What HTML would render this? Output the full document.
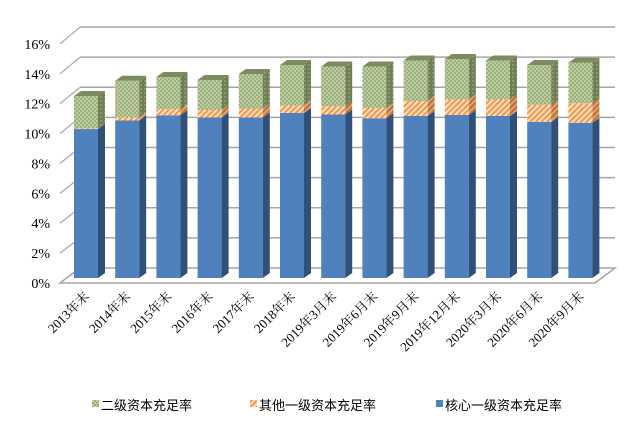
<!DOCTYPE html>
<html><head><meta charset="utf-8"><style>
body{margin:0;background:#fff}
svg text{font-family:"Liberation Serif","Noto Serif CJK SC",serif;fill:#000}
</style></head><body>
<svg id="chart" width="640" height="438" viewBox="0 0 640 438" xmlns="http://www.w3.org/2000/svg">
<defs>
<pattern id="pg" width="4" height="4" patternUnits="userSpaceOnUse"><rect width="4" height="4" fill="#9bb07a"/><circle cx="1" cy="1" r="0.9" fill="#d6e2c0"/><circle cx="3" cy="3" r="0.9" fill="#d6e2c0"/></pattern>
<pattern id="pgd" width="4" height="4" patternUnits="userSpaceOnUse"><rect width="4" height="4" fill="#6f7f55"/><circle cx="1" cy="1" r="0.9" fill="#9aa880"/></pattern>
<pattern id="po" width="4" height="4" patternUnits="userSpaceOnUse" patternTransform="rotate(45)"><rect width="4" height="4" fill="#fde0c4"/><rect width="2" height="4" fill="#f79646"/></pattern>
<pattern id="pod" width="4" height="4" patternUnits="userSpaceOnUse" patternTransform="rotate(45)"><rect width="4" height="4" fill="#d9a27a"/><rect width="2" height="4" fill="#c0702e"/></pattern>
</defs>
<g id="grid"></g>
<g id="bars"></g>
<g id="xlabels"></g>
<g font-size="13">
<rect x="92" y="400" width="7" height="7" fill="url(#pg)"/>
<text x="101" y="410" style="font-family:'Liberation Sans','Noto Sans CJK SC',sans-serif">二级资本充足率</text>
<rect x="250" y="400" width="7" height="7" fill="url(#po)"/>
<text x="259" y="410" style="font-family:'Liberation Sans','Noto Sans CJK SC',sans-serif">其他一级资本充足率</text>
<rect x="436" y="400" width="7" height="7" fill="#4f81bd"/>
<text x="445" y="410" style="font-family:'Liberation Sans','Noto Sans CJK SC',sans-serif">核心一级资本充足率</text>
</g>
</svg>
<script>
const categories=["2013年末","2014年末","2015年末","2016年末","2017年末","2018年末","2019年3月末","2019年6月末","2019年9月末","2019年12月末","2020年3月末","2020年6月末","2020年9月末"];
const coreTier1=[9.93,10.5,10.85,10.7,10.7,11.0,10.9,10.65,10.8,10.87,10.8,10.4,10.35];
const otherTier1=[0.05,0.2,0.4,0.5,0.6,0.5,0.55,0.68,1.0,1.03,1.1,1.15,1.3];
const tier2=[2.15,2.45,2.15,2.0,2.3,2.7,2.65,2.77,2.7,2.7,2.6,2.65,2.7];
const yTicks=[0,2,4,6,8,10,12,14,16];
const NS="http://www.w3.org/2000/svg";
function el(t,a,p){const e=document.createElementNS(NS,t);for(const k in a)e.setAttribute(k,a[k]);p.appendChild(e);return e;}
const yFront=v=>283-v*14.94, yBack=v=>268-v*15.06, yBar=v=>278-v*15.0;
const xBar=i=>74+i*41.2, BW=24, DX=7, DY=-5;
const grid=document.getElementById('grid');
// floor
let fl=el('polygon',{points:"60,283 80,268 615,268 595,283",fill:"none",stroke:"#a6a6a6","stroke-width":"1.5"},grid);


yTicks.forEach(v=>{
  if(v>0){const g=el('line',{x1:80,x2:615,y1:yBack(v),y2:yBack(v),stroke:"#a6a6a6","stroke-width":"1.5"},grid);
  
  }
  const d=el('line',{x1:60,y1:yFront(v),x2:80,y2:yBack(v),stroke:"#a6a6a6","stroke-width":"1.2"},grid);
  
  
  const t=el('text',{x:50,y:yFront(v)+5,"text-anchor":"end","font-size":"14"},grid);
  t.textContent=v+"%";
  
  
});
const bars=document.getElementById('bars');
function seg(i,lo,hi,front,side,top,name){
  const x=xBar(i),y1=yBar(hi),y0=yBar(lo);
  const g=el('g',{},bars);
  
  
  el('rect',{x:x,y:y1,width:BW,height:Math.max(0,y0-y1),fill:front},g);
  el('polygon',{points:`${x+BW},${y0} ${x+BW+DX},${y0+DY} ${x+BW+DX},${y1+DY} ${x+BW},${y1}`,fill:side},g);
  if(top)el('polygon',{points:`${x},${y1} ${x+DX},${y1+DY} ${x+BW+DX},${y1+DY} ${x+BW},${y1}`,fill:top},g);
}
categories.forEach((c,i)=>{
  const a=coreTier1[i],b=a+otherTier1[i],t=b+tier2[i];
  seg(i,0,a,"#4f81bd","#2f5079",null,'core-tier1');
  seg(i,a,b,"url(#po)","url(#pod)",null,'other-tier1');
  seg(i,b,t,"url(#pg)","url(#pgd)","#7d8c5e",'tier2');
  const x=xBar(i)+BW/2+4,y=297;
  const tx=el('text',{x:x,y:y,"text-anchor":"end","font-size":"13",transform:`rotate(-45 ${x} ${y})`},document.getElementById('xlabels'));
  tx.textContent=c;
  
  
});
</script>
</body></html>
